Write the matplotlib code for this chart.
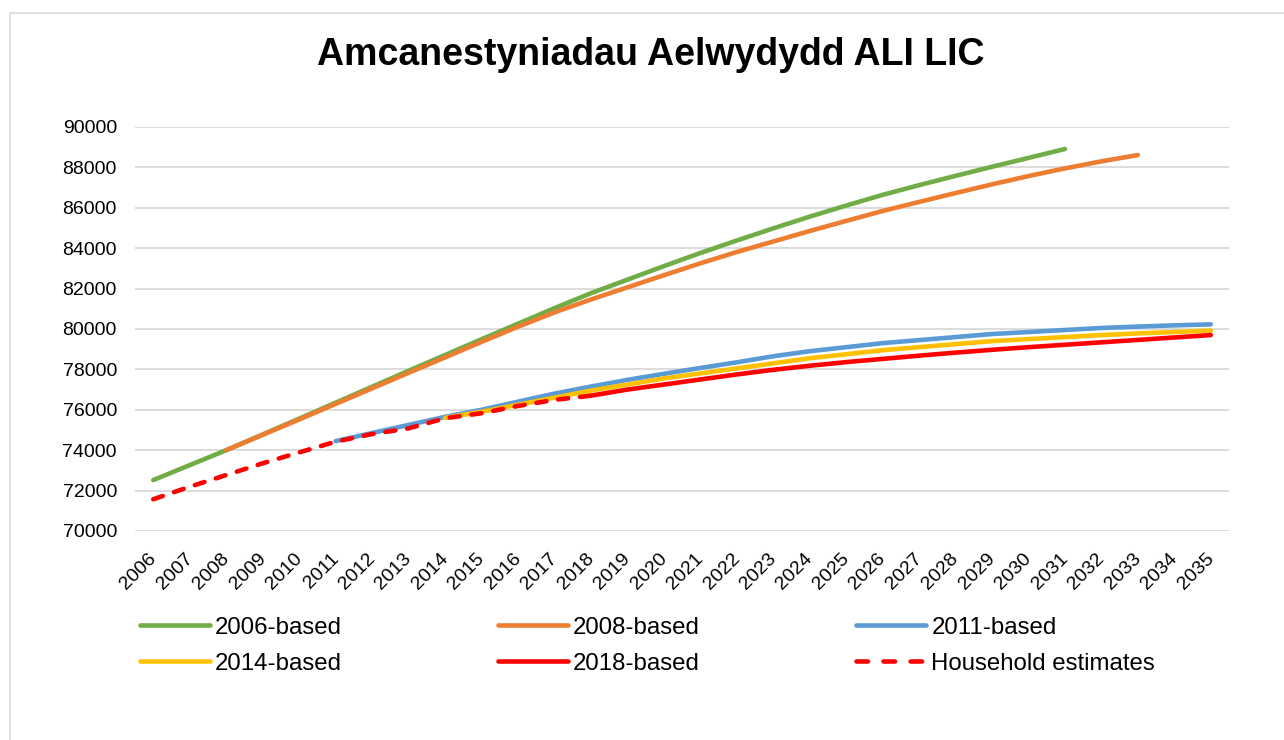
import numpy as np
import matplotlib.pyplot as plt
import matplotlib.transforms as mtransforms
from matplotlib.patches import Rectangle
from matplotlib.lines import Line2D

plt.rcParams['font.family'] = ['Liberation Sans', 'DejaVu Sans']

# Household projections
years_2006 = list(range(2006, 2032))
vals_2006 = [72520, 73260, 74000, 74780, 75560, 76350, 77140, 77930, 78710, 79490,
             80260, 81030, 81770, 82440, 83110, 83760, 84380, 84980, 85560, 86110,
             86640, 87120, 87580, 88030, 88470, 88910]

years_2008 = list(range(2008, 2034))
vals_2008 = [74000, 74760, 75520, 76290, 77060, 77830, 78590, 79360, 80110, 80820,
             81460, 82060, 82660, 83250, 83810, 84330, 84850, 85350, 85840, 86290,
             86730, 87160, 87570, 87950, 88300, 88610]

years_2011 = list(range(2011, 2036))
vals_2011 = [74450, 74850, 75250, 75650, 76000, 76400, 76800, 77150, 77480, 77780,
             78070, 78350, 78650, 78900, 79100, 79300, 79450, 79600, 79750, 79850,
             79950, 80050, 80120, 80180, 80230]

years_2014 = list(range(2014, 2036))
vals_2014 = [75600, 75900, 76250, 76600, 76950, 77250, 77550, 77800, 78050, 78300,
             78550, 78750, 78950, 79100, 79250, 79400, 79500, 79600, 79700, 79780,
             79850, 79920]

years_2018 = list(range(2018, 2036))
vals_2018 = [76700, 77000, 77250, 77500, 77750, 77980, 78180, 78360, 78520, 78680,
             78830, 78970, 79100, 79220, 79340, 79460, 79580, 79700]

years_est = list(range(2006, 2019))
vals_est = [71570, 72190, 72770, 73350, 73890, 74420, 74800, 75080, 75580, 75830,
            76190, 76490, 76700]

all_years = list(range(2006, 2036))

fig = plt.figure(figsize=(12.84, 7.4), dpi=100)
ax = fig.add_axes([135 / 1284, 1 - 531 / 740, (1229 - 135) / 1284, (531 - 127) / 740])

# chart border
fig.patches.append(Rectangle((10 / 1284, -0.05), 1.1, 1 - 13 / 740 + 0.05,
                             transform=fig.transFigure, fill=False,
                             edgecolor='#d9d9d9', lw=1.2))

lw = 3.3
series = [
    (years_2006, vals_2006, '#70AD47', '2006-based'),
    (years_2008, vals_2008, '#ED7D31', '2008-based'),
    (years_2011, vals_2011, '#5B9BD5', '2011-based'),
    (years_2014, vals_2014, '#FFC000', '2014-based'),
    (years_2018, vals_2018, '#FF0000', '2018-based'),
]
colors = {}
for yrs, vals, col, lab in series:
    ax.plot(yrs, vals, color=col, lw=lw, solid_capstyle='round',
            solid_joinstyle='round', label=lab)
    colors[lab] = col
ax.plot(years_est, vals_est, color='#FF0000', lw=lw, dashes=(2.2, 2.6),
        dash_capstyle='round', label='Household estimates')

ax.set_xlim(2005.5, 2035.5)
ax.set_ylim(70000, 90000)
ax.set_yticks(np.arange(70000, 90001, 2000))
ax.set_xticks(all_years)
ax.set_xticklabels([str(y) for y in all_years], rotation=45, ha='right',
                   rotation_mode='anchor', fontsize=14)
ax.tick_params(axis='y', labelsize=14, length=0, pad=13)
ax.tick_params(axis='x', length=0, pad=14)
shift = mtransforms.ScaledTranslation(-4 / 72, 0, fig.dpi_scale_trans)
for lbl in ax.get_xticklabels():
    lbl.set_transform(lbl.get_transform() + shift)
ax.grid(axis='y', color='#d9d9d9', lw=1.3)
ax.set_axisbelow(True)
for s in ax.spines.values():
    s.set_visible(False)

fig.text(0.507, 1 - 55 / 740, 'Amcanestyniadau Aelwydydd ALI LIC', ha='center',
         va='center', fontsize=27, fontweight='bold')

order = ['2006-based', '2014-based', '2008-based', '2018-based',
         '2011-based', 'Household estimates']
leg_handles = []
for k in order:
    if k == 'Household estimates':
        leg_handles.append(Line2D([], [], color='#FF0000', lw=lw, dashes=(2.5, 3.4),
                                  dash_capstyle='round'))
    else:
        leg_handles.append(Line2D([], [], color=colors[k], lw=lw,
                                  solid_capstyle='round'))
fig.legend(leg_handles, order, ncol=3, frameon=False, fontsize=17.3,
           loc='upper left', bbox_to_anchor=(118 / 1284, 1 - 595 / 740),
           handlelength=2.92, handletextpad=0.21, columnspacing=6.5,
           labelspacing=0.58)

fig.savefig('out.png', dpi=100)
